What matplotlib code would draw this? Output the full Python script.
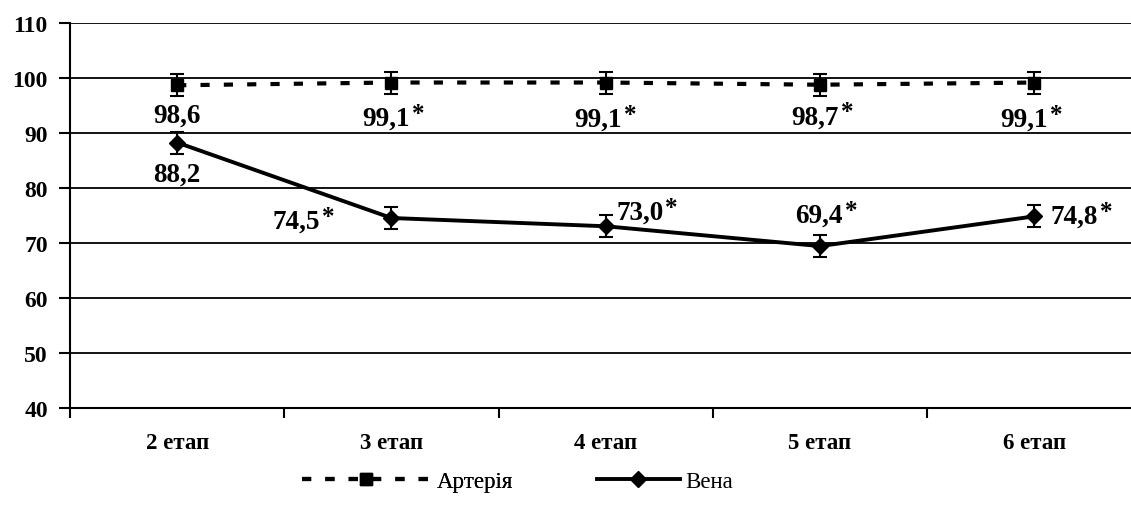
import matplotlib
matplotlib.use("Agg")
import matplotlib.pyplot as plt
import numpy as np

categories = ["2 етап", "3 етап", "4 етап", "5 етап", "6 етап"]
artery = [98.6, 99.1, 99.1, 98.7, 99.1]
artery_err = [2.0, 2.0, 2.0, 2.0, 2.0]
vein = [88.2, 74.5, 73.0, 69.4, 74.8]
vein_err = [2.0, 2.0, 2.0, 2.0, 2.0]
artery_labels = ["98,6", "99,1", "99,1", "98,7", "99,1"]
artery_star = [False, True, True, True, True]
vein_labels = ["88,2", "74,5", "73,0", "69,4", "74,8"]
vein_star = [False, True, True, True, True]
yticks = [40, 50, 60, 70, 80, 90, 100, 110]

plt.rcParams['font.family'] = ['Liberation Serif', 'DejaVu Serif']

W, H = 1131, 510
fig = plt.figure(figsize=(W / 100, H / 100), dpi=100)
ax = fig.add_axes([70 / W, (H - 409) / H, 1071.5 / W, (409 - 23.5) / H])

x = np.arange(len(categories))
ax.set_xlim(-0.5, len(categories) - 0.5)
ax.set_ylim(40, 110)

for yv in yticks[1:]:
    ax.axhline(yv, color='black', lw=1.3, zorder=1)

ax.errorbar(x, artery, yerr=artery_err, fmt='none', ecolor='black', elinewidth=1.5,
            capsize=5, capthick=1.5, zorder=3)
ax.errorbar(x, vein, yerr=vein_err, fmt='none', ecolor='black', elinewidth=1.5,
            capsize=5, capthick=1.5, zorder=3)
la, = ax.plot(x, artery, color='black', lw=3.0, dashes=(2.2, 3.4), marker='s',
              markersize=8.5, label='Артерія', zorder=4)
lv, = ax.plot(x, vein, color='black', lw=2.8, marker='D', markersize=8,
              label='Вена', zorder=4)

for s in ['top', 'right']:
    ax.spines[s].set_visible(False)
ax.spines['left'].set_linewidth(1.5)
ax.spines['bottom'].set_linewidth(1.5)

ax.set_yticks(yticks)
ax.set_yticklabels([str(v) for v in yticks], fontsize=17, fontweight='bold')
ax.tick_params(axis='y', direction='out', length=8, width=1.5, pad=8)
ax.set_xticks(x)
ax.set_xticklabels(categories, fontsize=16.5, fontweight='bold')
ax.set_xticks(np.arange(-0.5, len(categories), 1.0), minor=True)
ax.tick_params(axis='x', which='major', length=0, pad=17)
ax.tick_params(axis='x', which='minor', direction='out', length=7, width=1.5)

def put(xi, yi, dx, dy, txt, star, ha='center'):
    t = ax.annotate(txt, xy=(xi, yi), xytext=(dx, dy), textcoords='offset pixels',
                    ha=ha, va='center', fontsize=19.5, fontweight='bold', zorder=5)
    if star:
        ax.annotate('*', xy=(1.0, 1.0), xycoords=t, xytext=(2, 4),
                    textcoords='offset pixels', ha='left', va='top',
                    fontsize=18, fontweight='bold', zorder=5)

# artery labels (below markers)
a_off = [(0, -30), (-5, -36), (-8, -37), (-5, -32), (-10, -37)]
for i in range(len(x)):
    put(x[i], artery[i], a_off[i][0], a_off[i][1], artery_labels[i], artery_star[i])
# vein labels
v_off = [(0, -32), (-95, -3), (34, 14), (-1, 31), (40, 0)]
for i in range(len(x)):
    put(x[i], vein[i], v_off[i][0], v_off[i][1], vein_labels[i], vein_star[i])

fs_leg = 16.5
leg1 = fig.legend(handles=[la], loc='center left', bbox_to_anchor=(302 / W, (H - 482) / H),
                  frameon=False, fontsize=fs_leg, handlelength=5.6, handletextpad=0.3,
                  borderpad=0, borderaxespad=0)
fig.add_artist(leg1)
leg2 = fig.legend(handles=[lv], loc='center left', bbox_to_anchor=(597 / W, (H - 482) / H),
                  frameon=False, fontsize=fs_leg, handlelength=3.6, handletextpad=0.25,
                  borderpad=0, borderaxespad=0)

fig.savefig('out.png', dpi=100)
